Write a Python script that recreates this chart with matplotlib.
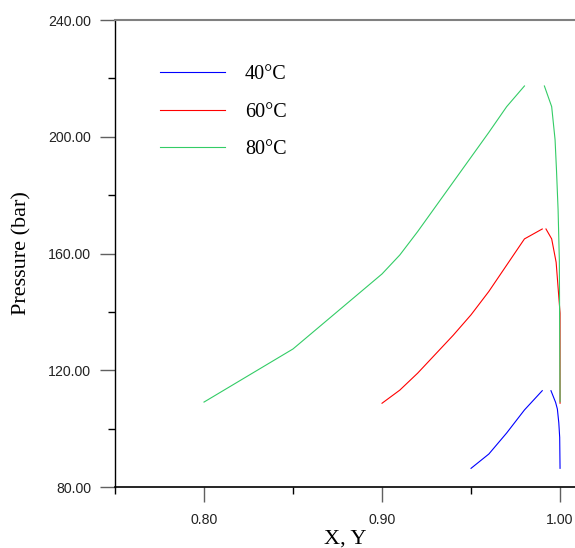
import matplotlib
matplotlib.use("Agg")
import matplotlib.pyplot as plt
from matplotlib.ticker import FixedLocator, FormatStrFormatter

# bubble (liquid, X) and dew (vapour, Y) branches
x_40 = [0.950, 0.960, 0.970, 0.980, 0.990]
p_40 = [86.4, 91.3, 98.5, 106.4, 113.0]
y_40 = [0.9949, 0.9975, 0.9985, 0.9993, 0.9998, 1.0000]
pd_40 = [113.0, 109.0, 106.7, 102.0, 97.0, 86.4]

x_60 = [0.900, 0.910, 0.920, 0.930, 0.940, 0.950, 0.960, 0.970, 0.980, 0.990]
p_60 = [108.7, 113.2, 119.0, 125.5, 132.0, 139.0, 147.0, 156.0, 165.0, 168.4]
y_60 = [0.9921, 0.9953, 0.9978, 0.9993, 1.0000, 1.0000]
pd_60 = [168.4, 165.0, 157.0, 145.2, 139.6, 108.7]

x_80 = [0.80, 0.85, 0.90, 0.91, 0.92, 0.93, 0.94, 0.95, 0.96, 0.97, 0.98]
p_80 = [109.1, 127.3, 153.0, 159.5, 167.5, 176.0, 184.5, 193.0, 201.5, 210.3, 217.4]
y_80 = [0.9912, 0.9953, 0.9972, 0.9980, 0.9989, 0.9996, 1.0000]
pd_80 = [217.4, 210.3, 199.0, 188.6, 175.0, 157.8, 109.2]

labels = ["40°C", "60°C", "80°C"]
colors = ["#0000ff", "#ff0000", "#33cc66"]

fig = plt.figure(figsize=(5.75, 5.48), dpi=100)
ax = fig.add_axes([0.2, 0.1113, 0.8, 0.8522])

series = [(x_40, p_40, y_40, pd_40), (x_60, p_60, y_60, pd_60), (x_80, p_80, y_80, pd_80)]
for (xb, pb, yd, pdw), lab, c in zip(series, labels, colors):
    ax.plot(xb, pb, color=c, lw=0.8, label=lab)
    ax.plot(yd, pdw, color=c, lw=0.8)

ax.set_xlim(0.75, 1.0084)
ax.set_ylim(80, 240)

ax.xaxis.set_major_locator(FixedLocator([0.80, 0.90, 1.00]))
ax.xaxis.set_minor_locator(FixedLocator([0.75, 0.85, 0.95]))
ax.yaxis.set_major_locator(FixedLocator([80, 120, 160, 200, 240]))
ax.yaxis.set_minor_locator(FixedLocator([100, 140, 180, 220]))
ax.xaxis.set_major_formatter(FormatStrFormatter("%.2f"))
ax.yaxis.set_major_formatter(FormatStrFormatter("%.2f"))

ax.tick_params(which="major", length=10.8, width=1, color="#606060",
               labelsize=10.2, labelcolor="#222222")
ax.tick_params(axis="y", which="major", pad=6.5)
ax.tick_params(axis="x", which="major", pad=8)
ax.tick_params(which="minor", length=5, width=1, color="black")
for lbl in ax.get_xticklabels() + ax.get_yticklabels():
    lbl.set_family("Liberation Sans")

ax.spines["right"].set_visible(False)
ax.spines["top"].set_color("#808080")
ax.spines["top"].set_linewidth(1.5)
ax.spines["left"].set_linewidth(1)
ax.spines["bottom"].set_linewidth(1.2)

ax.set_xlabel("X, Y", family="Liberation Serif", fontsize=16, labelpad=2)
ax.set_ylabel("Pressure (bar)", family="Liberation Serif", fontsize=16, labelpad=12)

ax.legend(loc="upper left", bbox_to_anchor=(0.068, 0.934), frameon=False,
          prop={"family": "Liberation Serif", "size": 14.5},
          handlelength=3.2, handletextpad=1.0, labelspacing=0.92,
          borderpad=0.2)

fig.savefig("out.png", dpi=100)
